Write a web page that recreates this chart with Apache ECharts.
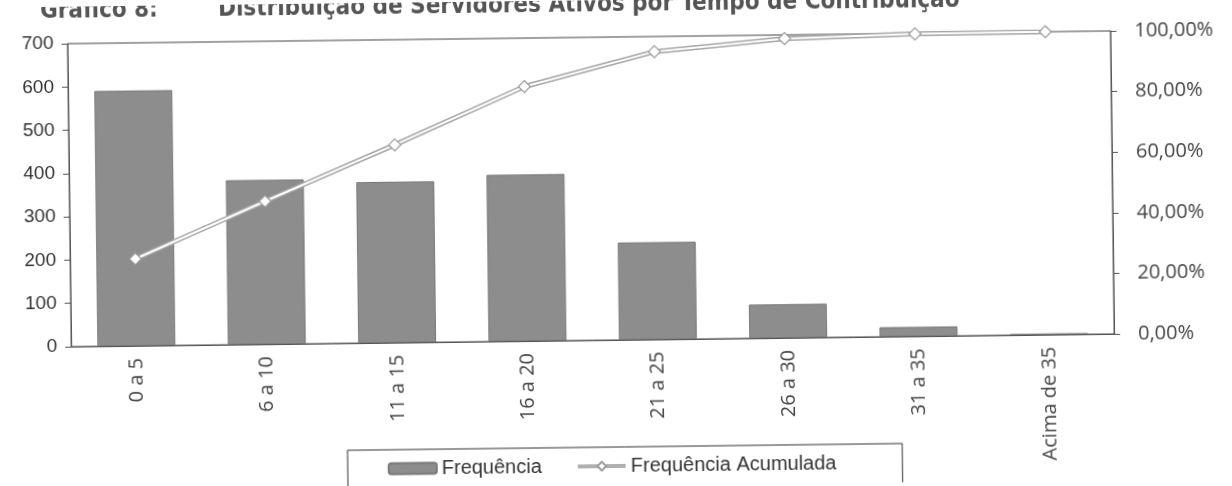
<!DOCTYPE html>
<html>
<head>
<meta charset="utf-8">
<script src="https://cdn.jsdelivr.net/npm/echarts@6/dist/echarts.min.js"></script>
<style>
  html, body { margin: 0; padding: 0; background: #fff; }
  /* o original é um scan levemente torto */
  #chart { width: 1232px; height: 486px; transform: rotate(-0.7deg); }
</style>
</head>
<body>
<div id="chart"></div>
<script>
// categorias (tempo de contribuição, em anos)
const categorias = ['0 a 5', '6 a 10', '11 a 15', '16 a 20', '21 a 25', '26 a 30', '31 a 35', 'Acima de 35']
// frequência de servidores
const frequencia = [590, 380, 372, 385, 225, 78, 22, 3]
// frequência acumulada (fração)
const acumulada = [0.287, 0.472, 0.653, 0.840, 0.950, 0.988, 0.998, 1.0]

const chart = echarts.init(document.getElementById('chart'))

const fmtPct = v => (v * 100).toFixed(2).replace('.', ',') + '%'
const fonteTitulo = { fontFamily: 'Liberation Sans Narrow, DejaVu Sans Condensed', fontWeight: 'bold', fontSize: 24, color: '#555' }

chart.setOption({
  animation: false,
  title: [{
    text: 'Gráfico 8:',
    left: 38,
    top: -12,
    textStyle: fonteTitulo
  }, {
    text: 'Distribuição de Servidores Ativos por Tempo de Contribuição',
    left: 216,
    top: -12,
    textStyle: fonteTitulo
  }],
  grid: {
    left: 70,
    right: 119,
    top: 37,
    bottom: 146,
    show: true,
    borderColor: '#444',
    borderWidth: 1
  },
  legend: {
    left: 345,
    top: 447,
    padding: [9, 66, 20, 40],
    itemGap: 34,
    itemWidth: 48,
    itemHeight: 11,
    borderColor: '#333',
    borderWidth: 1,
    textStyle: { fontFamily: 'Liberation Sans', fontSize: 20, color: '#333' },
    data: [
      'Frequência',
      { name: 'Frequência Acumulada', lineStyle: { color: '#b0b0b0', width: 4 } }
    ]
  },
  xAxis: {
    type: 'category',
    data: categorias,
    axisLine: { lineStyle: { color: '#555' } },
    axisTick: { length: 7, lineStyle: { color: '#555' } },
    axisLabel: {
      rotate: 90,
      margin: 12,
      fontFamily: 'Open Sans',
      fontSize: 20,
      color: '#444'
    }
  },
  yAxis: [{
    type: 'value',
    min: 0,
    max: 700,
    interval: 100,
    splitLine: { show: false },
    axisLine: { show: true, lineStyle: { color: '#555' } },
    axisTick: { show: true, length: 6, lineStyle: { color: '#555' } },
    axisLabel: { margin: 14, fontFamily: 'Liberation Sans', fontSize: 19, color: '#333' }
  }, {
    type: 'value',
    min: 0,
    max: 1,
    interval: 0.2,
    splitLine: { show: false },
    axisLine: { show: true, lineStyle: { color: '#555' } },
    axisTick: { show: true, length: 6, lineStyle: { color: '#555' } },
    axisLabel: { margin: 24, fontFamily: 'Open Sans', fontSize: 20, color: '#444', formatter: fmtPct }
  }],
  series: [{
    name: 'Frequência',
    type: 'bar',
    barWidth: 78,
    data: frequencia,
    itemStyle: { color: '#8d8d8d', borderColor: '#7a7a7a', borderWidth: 1 }
  }, {
    // contorno cinza da linha dupla
    name: 'contorno',
    type: 'line',
    yAxisIndex: 1,
    data: acumulada,
    symbol: 'none',
    silent: true,
    lineStyle: { color: '#a5a5a5', width: 5 }
  }, {
    name: 'Frequência Acumulada',
    type: 'line',
    yAxisIndex: 1,
    data: acumulada,
    symbol: 'diamond',
    symbolSize: 12,
    lineStyle: { color: '#ffffff', width: 2 },
    itemStyle: { color: '#fff', borderColor: '#999', borderWidth: 1.2 }
  }]
})
</script>
</body>
</html>
